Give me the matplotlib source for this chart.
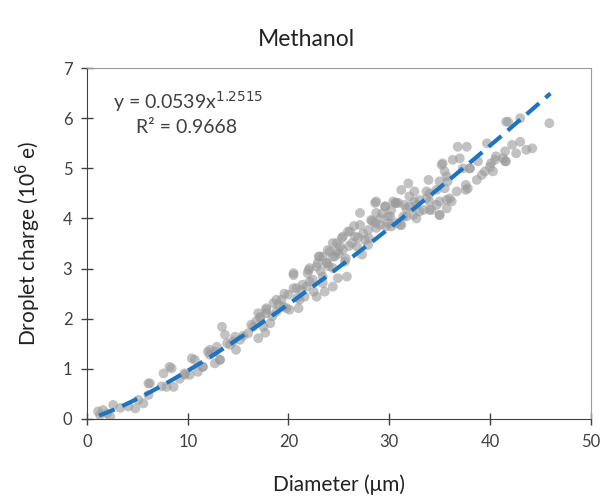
import matplotlib
matplotlib.use("Agg")
import matplotlib.pyplot as plt
import numpy as np

# droplet diameter (um) and charge (10^6 e)
diam = [1.1, 1.3, 1.6, 2.0, 2.6, 2.3, 3.3, 4.1, 4.8, 5.1, 5.6, 6.1, 6.25, 7.4, 7.6, 8.4, 7.9, 8.6, 9.7,
        6.1, 8.2, 9.7, 10.2, 10.7, 11.0, 11.5, 12.0, 12.2, 12.9, 12.7, 13.4, 13.7, 13.2, 13.9,
        10.4, 11.5, 12.2, 12.7, 13.2, 14.2, 14.7, 14.8, 15.2, 16.0, 16.3, 17.0, 17.0, 17.5, 17.8, 17.7,
        20.5, 20.8, 22.0, 23.0, 24.8, 25.4, 25.9, 25.8, 24.4, 23.8, 22.8, 21.1, 19.5, 18.8, 17.8, 17.2,
        18.2, 16.5, 20.1, 21.8, 23.4, 24.4,
        17.2, 17.8, 18.5, 18.8, 19.3, 19.8, 20.0, 20.5, 20.5, 21.0, 21.3, 21.6, 22.1, 22.5, 22.8, 23.1,
        23.4, 23.6, 23.8, 24.1, 24.4, 24.6, 24.9, 25.1, 21.9,
        22.1, 22.9, 23.4, 23.9, 24.4, 24.8, 25.3, 25.4, 26.1, 26.3, 26.6, 27.1, 27.1, 27.6, 27.9, 28.2,
        28.6, 28.7, 29.1, 29.6, 29.9, 30.2, 30.6, 30.7, 25.6, 27.9, 26.8,
        31.2, 31.9, 33.9, 35.2, 35.3, 36.8, 37.7, 39.7, 41.6, 43.0, 43.0, 42.6, 43.6, 41.5, 40.5, 40.0,
        39.5, 38.8, 38.0, 38.7, 37.6, 37.0, 36.3, 37.6, 36.7, 35.7, 35.0, 35.5, 34.7, 34.0, 33.7, 33.0,
        32.5, 32.0, 31.5, 30.9, 30.4, 35.7, 36.2, 35.0, 34.0, 33.0, 32.4, 31.4, 31.2, 30.2, 29.9, 28.7,
        32.5, 32.0, 34.0, 34.7,
        35.5, 35.8, 33.7, 38.0, 37.8, 28.7, 29.6, 30.7, 31.7, 32.7, 35.0, 36.0, 34.2, 33.4, 35.0, 32.7,
        31.7, 30.1, 29.1, 28.6, 29.7, 31.1, 35.7,
        41.8, 45.9, 41.5, 41.3, 40.6, 40.1, 41.6, 37.3, 39.2, 40.3, 44.2, 42.2, 9.2, 14.5, 15.5,
        16.8, 18.4, 19.0, 21.4, 22.4, 23.2, 24.0, 25.0, 26.0, 26.9, 27.4, 28.3, 29.3, 26.5, 27.3,
        28.0, 25.7, 19.6, 20.9]
charge = [0.15, 0.08, 0.18, 0.11, 0.28, 0.05, 0.22, 0.25, 0.21, 0.38, 0.31, 0.48, 0.71, 0.65, 0.91, 1.01, 0.64, 0.64, 0.91,
          0.71, 1.04, 0.88, 0.88, 1.18, 0.94, 1.04, 1.34, 1.28, 1.44, 1.11, 1.84, 1.68, 1.18, 1.51,
          1.21, 1.04, 1.38, 1.34, 1.18, 1.48, 1.64, 1.38, 1.58, 1.71, 1.88, 2.11, 1.61, 1.84, 2.21, 1.72,
          2.87, 2.61, 2.97, 3.24, 3.51, 3.64, 3.74, 2.84, 3.24, 3.11, 2.44, 2.38, 2.24, 2.38, 2.11, 2.01,
          1.91, 1.84, 2.18, 2.64, 2.71, 2.64,
          2.04, 2.18, 2.31, 2.14, 2.38, 2.21, 2.48, 2.61, 2.91, 2.21, 2.57, 2.44, 2.74, 2.54, 3.04, 3.24,
          2.84, 2.54, 3.11, 3.34, 3.01, 3.24, 2.81, 3.44, 2.91,
          3.01, 3.11, 3.24, 3.37, 3.51, 3.34, 3.61, 3.37, 3.74, 3.51, 3.64, 4.11, 3.87, 3.57, 3.77, 3.97,
          4.31, 4.11, 3.87, 4.24, 4.04, 4.17, 4.31, 3.91, 3.14, 3.47, 3.44,
          4.57, 4.70, 4.77, 5.07, 5.10, 5.43, 5.43, 5.50, 5.93, 6.00, 5.53, 5.30, 5.37, 5.14, 5.17, 5.03,
          4.94, 5.14, 5.00, 4.77, 4.67, 5.20, 5.17, 4.57, 4.54, 4.84, 4.74, 4.60, 4.57, 4.50, 4.40, 4.37,
          4.34, 4.24, 4.27, 4.31, 4.34, 4.37, 4.34, 4.07, 4.17, 4.14, 4.07, 4.04, 3.87, 3.84, 3.91, 3.81,
          4.54, 4.44, 4.34, 4.27,
          4.94, 4.74, 4.54, 5.00, 4.60, 4.34, 4.24, 4.31, 4.20, 4.27, 4.34, 4.40, 4.17, 4.17, 4.07, 4.00,
          4.04, 4.04, 4.00, 3.91, 3.84, 3.87, 4.20,
          5.93, 5.90, 5.34, 5.20, 5.24, 5.10, 5.14, 5.00, 4.87, 4.94, 5.40, 5.47, 0.80, 1.55, 1.66,
          1.95, 2.05, 2.28, 2.68, 2.78, 2.95, 3.05, 3.30, 3.45, 3.62, 3.70, 3.95, 4.10, 3.85, 3.28,
          3.60, 3.20, 2.50, 2.42]

# power-law fit shown on the chart
fit_a = 0.0539
fit_b = 1.2515
r2 = 0.9668
fit_x0, fit_x1 = 1.2, 46

plt.rcParams['font.family'] = ['Lato', 'DejaVu Sans']

fig = plt.figure(figsize=(6.04, 4.97), dpi=100)
ax = fig.add_axes([0.144, 0.157, 0.834, 0.706])

ax.scatter(diam, charge, s=50, color='#9a9a9a', alpha=0.6, edgecolors='none', zorder=2)

xs = np.linspace(fit_x0, fit_x1, 200)
ax.plot(xs, fit_a * xs ** fit_b, color='#1f74c0', lw=3, dashes=(4, 2), zorder=3)

ax.set_xlim(0, 50)
ax.set_ylim(0, 7)
ax.set_xticks(range(0, 51, 10))
ax.set_yticks(range(0, 8))
ax.tick_params(direction='inout', length=9, width=1, colors='#404040', labelsize=12, pad=6)
for s in ['left', 'bottom']:
    ax.spines[s].set_color('#404040')
for s in ['top', 'right']:
    ax.spines[s].set_color('#9a9a9a')

ax.set_xlabel('Diameter (μm)', fontsize=15, labelpad=18, color='#222222')
ax.set_ylabel('Droplet charge (10$^6$ e)', fontsize=15, labelpad=14, color='#222222')
fig.text(0.507, 0.92, 'Methanol', fontsize=16.5, ha='center', va='center', color='#222222')

ax.text(10.0, 6.33, 'y = %.4fx$^{%.4f}$' % (fit_a, fit_b), fontsize=14, ha='center', va='center', color='#404040')
ax.text(9.9, 5.81, 'R² = %.4f' % r2, fontsize=14, ha='center', va='center', color='#404040')

fig.savefig('out.png', dpi=100)
